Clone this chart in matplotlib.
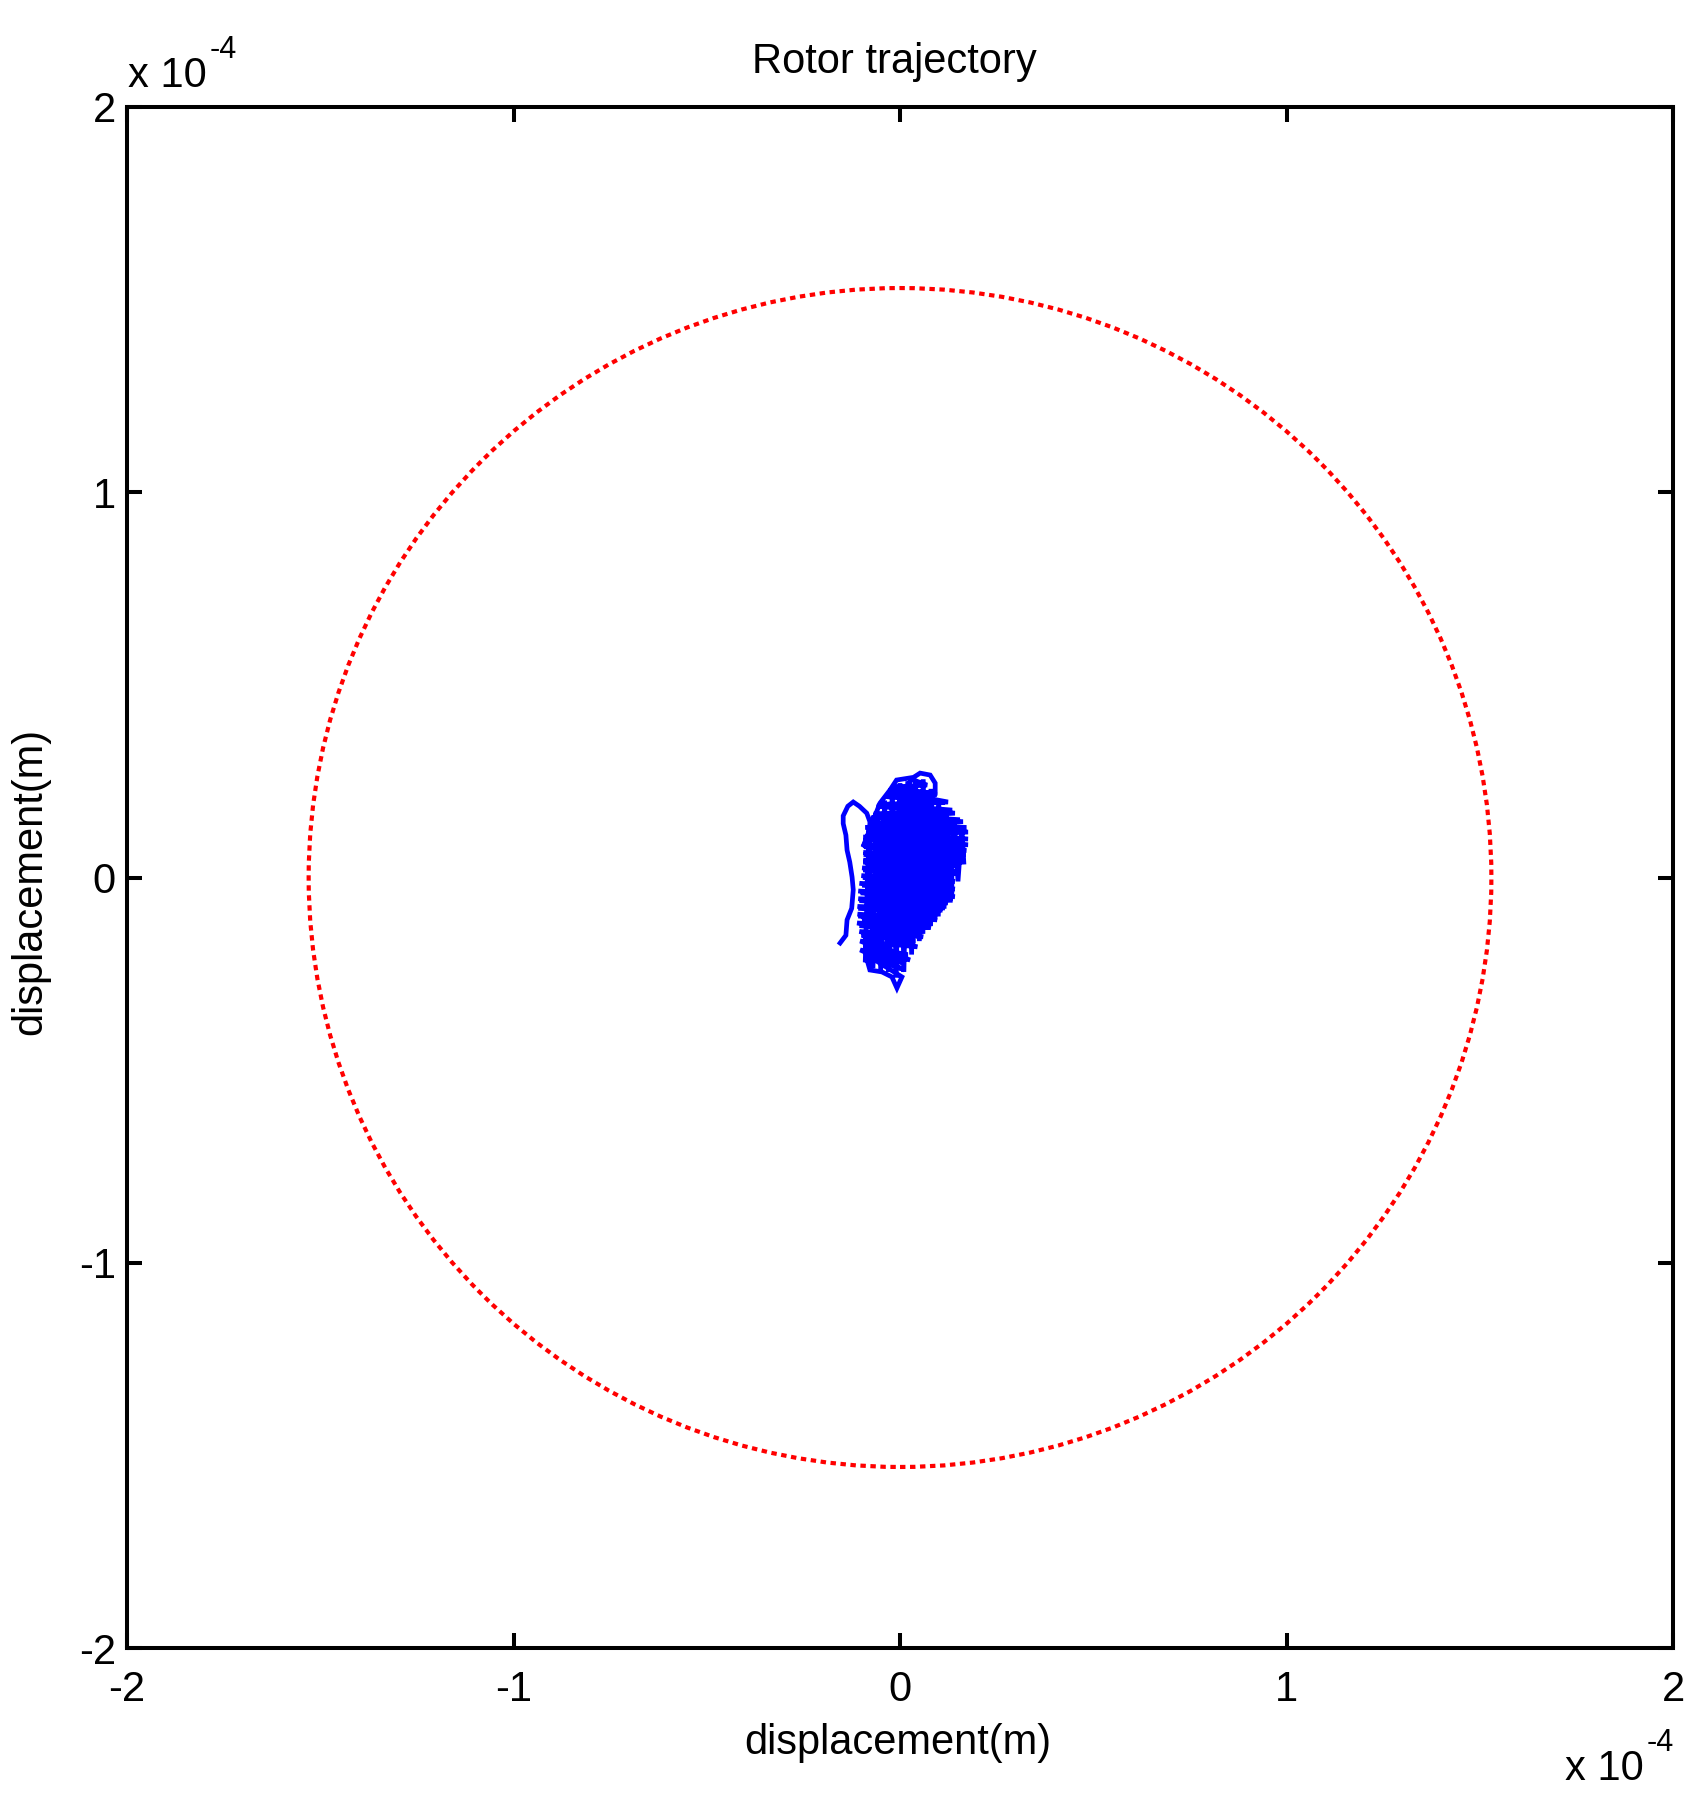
import matplotlib
matplotlib.use('Agg')
import matplotlib.pyplot as plt
import numpy as np
from matplotlib.patches import Circle
from matplotlib.ticker import FuncFormatter

plt.rcParams['font.family'] = ['Liberation Sans', 'DejaVu Sans']

# trajectory points, in units of 1e-4 m
traj_x = [-0.155, -0.140, -0.137, -0.125, -0.121, -0.124, -0.130, -0.137, -0.140, -0.147,
          -0.147, -0.135, -0.121, -0.105, -0.086, -0.078, -0.078, -0.096,
          -0.052, -0.026, -0.009, 0.035, 0.052, 0.078, 0.091, 0.091, -0.030, 0.124, -0.060, 0.142,
          -0.075, 0.163, -0.090, 0.176, -0.095, 0.176, -0.096, 0.170, -0.095, 0.160,
          -0.095, 0.142, -0.098, 0.142, -0.100, 0.142, -0.105, 0.142, -0.108, 0.124,
          -0.108, 0.110, -0.110, 0.096, -0.110, 0.080, -0.111, 0.060, -0.105, 0.045,
          -0.103, 0.026, -0.103, 0.012, -0.078, 0.005, -0.008, -0.021, -0.047, -0.078,
          -0.085, 0.020, -0.095, 0.040, -0.100, 0.065, -0.105, 0.085, -0.108, 0.105,
          -0.108, 0.120, -0.105, 0.135, -0.102, 0.140, -0.098, 0.140, -0.096, 0.140,
          -0.095, 0.145, -0.095, 0.155, -0.094, 0.165, -0.093, 0.172, -0.090, 0.176,
          -0.086, 0.172, -0.080, 0.155, -0.068, 0.135, -0.050, 0.115, -0.035, 0.095,
          -0.015, 0.070, 0.030,
          0.000, 0.100, -0.060, 0.130, -0.080, 0.120, -0.090, 0.110, -0.095, 0.090,
          -0.098, 0.060, -0.095, 0.030, -0.070, 0.000, -0.030, 0.010, 0.020, 0.050, 0.060,
          -0.090, -0.080, -0.070, -0.060, -0.050, -0.040, -0.030, -0.020, -0.010, 0.000,
          0.010, 0.020, 0.030, 0.040, 0.050, 0.060, 0.070, 0.080, 0.090, 0.100,
          0.110, 0.120, 0.130, 0.140, 0.150, 0.160, 0.165]
traj_y = [-0.170, -0.150, -0.110, -0.080, -0.032, 0.001, 0.040, 0.071, 0.110, 0.140,
          0.160, 0.185, 0.196, 0.185, 0.167, 0.145, 0.105, 0.079,
          0.193, 0.227, 0.253, 0.260, 0.271, 0.266, 0.245, 0.219, 0.225, 0.196, 0.185, 0.167,
          0.155, 0.145, 0.130, 0.118, 0.105, 0.085, 0.085, 0.060, 0.065, 0.040,
          0.045, 0.015, 0.025, -0.010, 0.005, -0.030, -0.015, -0.050, -0.035, -0.066,
          -0.055, -0.085, -0.075, -0.110, -0.095, -0.130, -0.118, -0.154, -0.140, -0.180,
          -0.165, -0.214, -0.188, -0.240, -0.206, -0.258, -0.287, -0.258, -0.245, -0.240,
          -0.215, -0.200, -0.180, -0.165, -0.150, -0.140, -0.125, -0.120, -0.100, -0.095,
          -0.080, -0.075, -0.060, -0.055, -0.040, -0.040, -0.020, -0.020, 0.000, 0.000,
          0.020, 0.010, 0.040, 0.030, 0.060, 0.050, 0.080, 0.070, 0.100, 0.100,
          0.120, 0.130, 0.140, 0.150, 0.165, 0.175, 0.190, 0.195, 0.210, 0.215,
          0.235, 0.240, 0.255,
          0.200, 0.160, 0.120, 0.090, 0.050, 0.030, -0.010, -0.030, -0.060, -0.070,
          -0.110, -0.110, -0.160, -0.150, -0.200, -0.220, -0.180, -0.100, 0.000, 0.100, 0.200,
          -0.220, 0.130, -0.235, 0.170, -0.240, 0.200, -0.245, 0.230, -0.260, 0.245,
          -0.245, 0.250, -0.200, 0.255, -0.165, 0.255, -0.135, 0.230, -0.110, 0.200,
          -0.085, 0.175, -0.065, 0.150, -0.010, 0.130, 0.040]

clearance = 1.53e-4
ticks = [-2, -1, 0, 1, 2]
scale = 1e-4

fig = plt.figure(figsize=(17.07, 17.98), dpi=100)
ax = fig.add_axes([0.0744, 0.0834, 0.9057, 0.8571])

ax.plot(np.array(traj_x) * scale, np.array(traj_y) * scale, color='#0000ff', lw=3.4,
        solid_joinstyle='miter')
ax.add_patch(Circle((0, 0), clearance, fill=False, edgecolor='#ff0000', lw=3.0,
                    linestyle=(0, (1.3, 1.1))))

ax.set_xlim(-2e-4, 2e-4)
ax.set_ylim(-2e-4, 2e-4)
ax.set_xticks([t * scale for t in ticks])
ax.set_yticks([t * scale for t in ticks])
fmt = FuncFormatter(lambda v, p: '%g' % round(v / scale, 6))
ax.xaxis.set_major_formatter(fmt)
ax.yaxis.set_major_formatter(fmt)
ax.tick_params(direction='in', length=11, width=2.9, labelsize=30, top=True, right=True)
ax.tick_params(axis='x', pad=16)
ax.tick_params(axis='y', pad=8)
for s in ax.spines.values():
    s.set_linewidth(2.9)

fig.text(894 / 1707, 1 - 62 / 1798, 'Rotor trajectory', ha='center', va='center', fontsize=30)
fig.text(898 / 1707, 1 - 1743 / 1798, 'displacement(m)', ha='center', va='center', fontsize=30)
fig.text(30 / 1707, 1 - 881 / 1798, 'displacement(m)', ha='center', va='center',
         rotation=90, fontsize=30)

# scale factor labels, "x 10" with a plain "-4" exponent
for x0, base in [(128, 87), (1565, 1780)]:
    fig.text(x0 / 1707, 1 - base / 1798, 'x 10', ha='left', va='baseline', fontsize=30)
    fig.text((x0 + 82) / 1707, 1 - (base - 29) / 1798, '-4', ha='left', va='baseline',
             fontsize=22)

fig.savefig('out.png', dpi=100)
